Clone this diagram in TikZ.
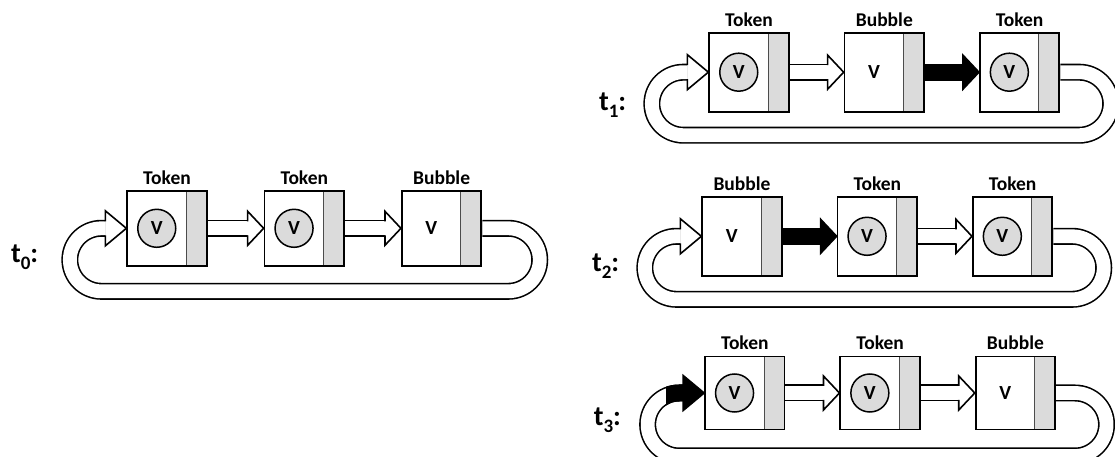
\documentclass[tikz,border=0pt]{standalone}
\usepackage{fontspec}
\setmainfont{Carlito}
\usetikzlibrary{positioning,calc,backgrounds}

\newcommand{\tlabel}[1]{t\raisebox{-7pt}{\fontsize{19}{19}\selectfont #1}:}

% straight connector: #1 fill, #2 from, #3 to
\newcommand{\pipe}[3]{%
  \draw[band, double=#1] (#2.east) -- ($(#3.west)+(-16,0)$);
  \filldraw[headline, fill=#1] ($(#3.west)+(-16,7)$) -- ++(0,10) -- (#3.west)
    -- ($(#3.west)+(-16,-17)$) -- ++(0,10);
}
% loop back: #1 right reach, #2 from, #3 to, #4 head fill
\newcommand{\feedback}[4]{%
  \draw[band] (#2.east) -- ++(#1,0) arc[start angle=90, end angle=-90, radius=31.5]
    -- ($(#3.west)+(-25,-63)$) arc[start angle=-90, end angle=-270, radius=31.5]
    -- ($(#3.west)+(-21,0)$);
  \filldraw[headline, fill=#4] ($(#3.west)+(-21,7)$) -- ++(0,10.5) -- (#3.west)
    -- ($(#3.west)+(-21,-17.5)$) -- ++(0,10.5);
}

\tikzset{
  cell/.style={draw, line width=1.8pt, fill=white, inner sep=0pt,
    minimum width=79.5pt, minimum height=77pt,
    path picture={
      \fill[gray!28] ($(path picture bounding box.north east)+(-20.5,0)$)
        rectangle (path picture bounding box.south east);
      \draw[gray!60!black, line width=0.9pt]
        ($(path picture bounding box.north east)+(-20.5,0)$) --
        ($(path picture bounding box.south east)+(-20.5,0)$);}},
  token/.style={circle, draw, line width=1.5pt, fill=gray!28, minimum size=38pt,
    inner sep=0pt, font=\bfseries\fontsize{20}{20}\selectfont},
  vtext/.style={inner sep=0pt, font=\bfseries\fontsize{20}{20}\selectfont},
  stage/.style={inner sep=0pt, anchor=base east, font=\bfseries\fontsize{28}{30}\selectfont},
  band/.style={draw=black, line width=1.6pt, double=white, double distance=13.8pt},
  headline/.style={draw=black, line width=1.6pt, line join=miter},
}

\begin{document}
\begin{tikzpicture}[x=1pt, y=1pt, label distance=2pt,
  every label/.style={font=\bfseries\fontsize{19.5}{21}\selectfont}]
\useasboundingbox (0,0) rectangle (1115,457);

% t0
\begin{scope}[node distance=56pt, cell/.append style={minimum height=75pt}]
\node[cell, label=above:Token] (a1) at (167,228.7) {};
\node[cell, label=above:Token, right=of a1] (a2) {};
\node[cell, label=above:Bubble, right=of a2] (a3) {};
\end{scope}
\node[token] (a1v) at ($(a1)+(-10.25,0)$) {V};
\node[token] (a2v) at ($(a2)+(-10.25,0)$) {V};
\node[vtext] (a3v) at ($(a3)+(-10.25,0)$) {V};
\node[stage] (t0) at ($(a1.west)+(-88,-34)$) {\tlabel{0}};

% t1
\begin{scope}[node distance=54pt, cell/.append style={minimum height=79pt}]
\node[cell, label=above:Token] (b1) at (749,384.8) {};
\node[cell, label=above:Bubble, right=of b1] (b2) {};
\node[cell, label=above:Token, right=of b2] (b3) {};
\end{scope}
\node[token] (b1v) at ($(b1)+(-10.25,0)$) {V};
\node[vtext] (b2v) at ($(b2)+(-10.25,0)$) {V};
\node[token] (b3v) at ($(b3)+(-10.25,0)$) {V};
\node[stage] (t1) at ($(b1.west)+(-82,-38)$) {\tlabel{1}};

% t2
\begin{scope}[node distance=54pt, cell/.append style={minimum height=79pt}]
\node[cell, label=above:Bubble] (c1) at (742,220.7) {};
\node[cell, label=above:Token, right=of c1] (c2) {};
\node[cell, label=above:Token, right=of c2] (c3) {};
\end{scope}
\node[vtext] (c1v) at ($(c1)+(-10.25,0)$) {V};
\node[token] (c2v) at ($(c2)+(-10.25,0)$) {V};
\node[token] (c3v) at ($(c3)+(-10.25,0)$) {V};
\node[stage] (t2) at ($(c1.west)+(-82,-35)$) {\tlabel{2}};

% t3
\begin{scope}[node distance=54pt, cell/.append style={minimum height=73pt}]
\node[cell, label=above:Token] (d1) at (744.8,64) {};
\node[cell, label=above:Token, right=of d1] (d2) {};
\node[cell, label=above:Bubble, right=of d2] (d3) {};
\end{scope}
\node[token] (d1v) at ($(d1)+(-10.25,0)$) {V};
\node[token] (d2v) at ($(d2)+(-10.25,0)$) {V};
\node[vtext] (d3v) at ($(d3)+(-10.25,0)$) {V};
\node[stage] (t3) at ($(d1.west)+(-83,-33)$) {\tlabel{3}};

% connectors under the cells
\begin{scope}[on background layer]
\fill[white] (0,0) rectangle (1115,457);
\pipe{white}{a1}{a2} \pipe{white}{a2}{a3} \feedback{26}{a3}{a1}{white}
\pipe{white}{b1}{b2} \pipe{black}{b2}{b3} \feedback{19}{b3}{b1}{white}
\pipe{black}{c1}{c2} \pipe{white}{c2}{c3} \feedback{19}{c3}{c1}{white}
\pipe{white}{d1}{d2} \pipe{white}{d2}{d3} \feedback{19}{d3}{d1}{black}
\begin{scope}
\clip ($(d1.west)+(-38,-20)$) rectangle ($(d1.west)+(-20,12)$);
\draw[band, double=black] ($(d1.west)+(-25,-63)$)
  arc[start angle=-90, end angle=-270, radius=31.5] -- ($(d1.west)+(-21,0)$);
\end{scope}
\end{scope}
\end{tikzpicture}
\end{document}
